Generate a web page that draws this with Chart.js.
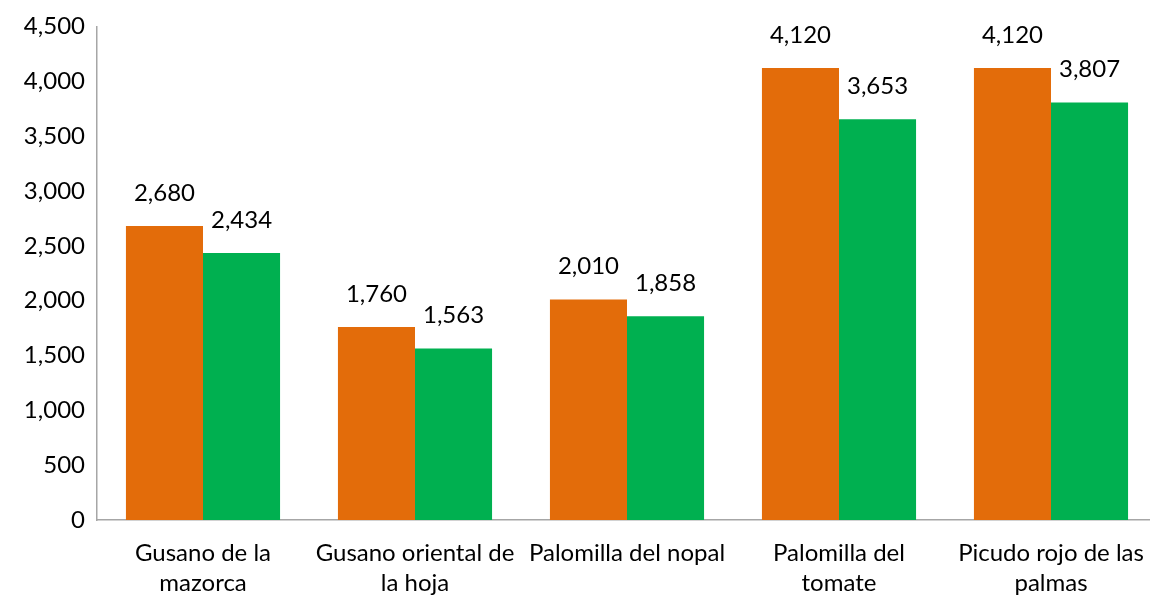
<!DOCTYPE html>
<html>
<head>
<meta charset="utf-8">
<script src="https://cdn.jsdelivr.net/npm/chart.js@4/dist/chart.umd.min.js"></script>
<style>
  html, body { margin: 0; padding: 0; background: #fff; overflow: hidden; }
  #wrap { width: 1157px; height: 599px; }
</style>
</head>
<body>
<div id="wrap"><canvas id="grafica"></canvas></div>
<script>
// datos
const categorias = [
  ["Gusano de la", "mazorca"],
  ["Gusano oriental de", "la hoja"],
  ["Palomilla del nopal"],
  ["Palomilla del", "tomate"],
  ["Picudo rojo de las", "palmas"]
];
const serieNaranja = [2680, 1760, 2010, 4120, 4120];
const serieVerde = [2434, 1563, 1858, 3653, 3807];
const ejeY = { min: 0, max: 4500, paso: 500 };

const fuente = "Lato, 'Open Sans', sans-serif";

// etiquetas encima de cada barra
const etiquetas = {
  id: "etiquetas",
  afterDatasetsDraw(chart) {
    const ctx = chart.ctx;
    ctx.save();
    ctx.font = "24px " + fuente;
    ctx.fillStyle = "#000";
    ctx.textAlign = "center";
    ctx.textBaseline = "middle";
    chart.data.datasets.forEach((ds, i) => {
      chart.getDatasetMeta(i).data.forEach((bar, j) => {
        ctx.fillText(ds.data[j].toLocaleString("en-US"), bar.x, bar.y - 33);
      });
    });
    ctx.restore();
  }
};

new Chart(document.getElementById("grafica"), {
  type: "bar",
  data: {
    labels: categorias,
    datasets: [
      { data: serieNaranja, backgroundColor: "#E36C0A" },
      { data: serieVerde, backgroundColor: "#00B050" }
    ]
  },
  options: {
    responsive: true,
    maintainAspectRatio: false,
    animation: false,
    layout: { padding: { top: 0, right: 0, bottom: 0, left: 0 } },
    plugins: { legend: { display: false }, tooltip: { enabled: false } },
    datasets: { bar: { categoryPercentage: 0.727, barPercentage: 1.0 } },
    scales: {
      x: {
        grid: { display: false, drawTicks: false },
        border: { color: "#A6A6A6", width: 1.5 },
        ticks: { color: "#000", font: { family: fuente, size: 24, lineHeight: 1.25 }, padding: 18, maxRotation: 0, autoSkip: false },
        afterFit(s) { s.height = 79; s.paddingLeft = 0; s.paddingRight = 0; }
      },
      y: {
        min: ejeY.min,
        max: ejeY.max,
        grid: { display: false, drawTicks: false },
        border: { color: "#A6A6A6", width: 1.5 },
        ticks: {
          stepSize: ejeY.paso,
          color: "#000",
          padding: 12,
          font: { family: fuente, size: 24 },
          callback: v => v.toLocaleString("en-US")
        },
        afterFit(s) { s.width = 97; }
      }
    }
  },
  plugins: [etiquetas]
});
</script>
</body>
</html>
